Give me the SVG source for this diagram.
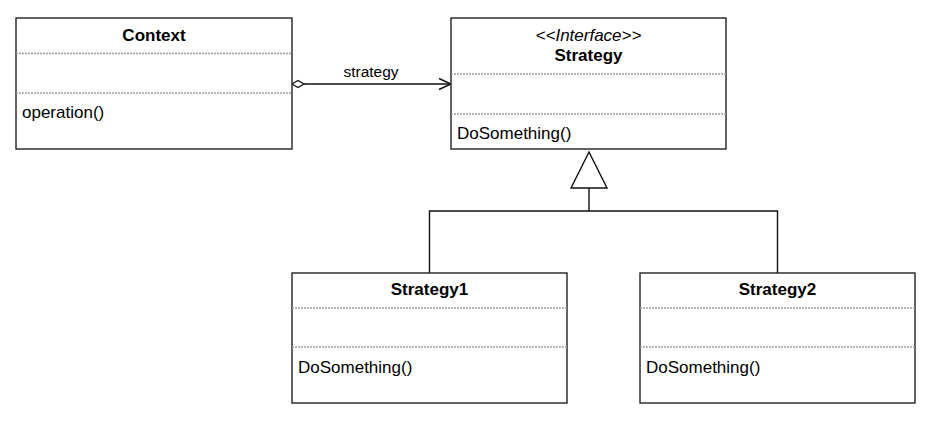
<svg xmlns="http://www.w3.org/2000/svg" width="939" height="434" viewBox="0 0 939 434">
<defs>
<style>
.box{fill:#fff;stroke:#222;stroke-width:1.4}
.div{stroke:#a0a0a0;stroke-width:1.3;stroke-dasharray:2 1}
.t{font-family:"Liberation Sans",Arial,sans-serif;font-size:17px;fill:#000}
.b{font-weight:bold;text-anchor:middle}
.i{font-style:italic;text-anchor:middle}
.lbl{font-family:"Liberation Sans",Arial,sans-serif;font-size:15.5px;fill:#000;text-anchor:middle}
.ln{fill:none;stroke:#111;stroke-width:1.4}
</style>
</defs>
<rect width="939" height="434" fill="#fff"/>
<g id="connectors">
<line class="ln" x1="304" y1="84" x2="450" y2="84"/>
<polygon points="292,84 298,80.5 304,84 298,87.5" fill="#fff" stroke="#111" stroke-width="1.3"/>
<polyline class="ln" points="439,78.5 451,84 439,89.5"/>
<text class="lbl" x="371" y="77">strategy</text>
<polygon points="589,152 607,188 571,188" fill="#fff" stroke="#111" stroke-width="1.4"/>
<line class="ln" x1="589" y1="188" x2="589" y2="211"/>
<polyline class="ln" points="429.5,273 429.5,211 777.5,211 777.5,273"/>
</g>
<g id="context">
<rect class="box" x="16" y="18" width="276" height="131"/>
<line class="div" x1="16" y1="53.5" x2="292" y2="53.5"/>
<line class="div" x1="16" y1="93" x2="292" y2="93"/>
<text class="t b" x="154" y="41">Context</text>
<text class="t" x="22" y="118">operation()</text>
</g>
<g id="strategy">
<rect class="box" x="451" y="18" width="275" height="131"/>
<line class="div" x1="451" y1="74" x2="726" y2="74"/>
<line class="div" x1="451" y1="114" x2="726" y2="114"/>
<text class="t i" x="588.5" y="41">&lt;&lt;Interface&gt;&gt;</text>
<text class="t b" x="588.5" y="61">Strategy</text>
<text class="t" x="457" y="139">DoSomething()</text>
</g>
<g id="strategy1">
<rect class="box" x="292" y="273" width="275" height="130"/>
<line class="div" x1="292" y1="308" x2="567" y2="308"/>
<line class="div" x1="292" y1="347" x2="567" y2="347"/>
<text class="t b" x="429.5" y="295">Strategy1</text>
<text class="t" x="298" y="373">DoSomething()</text>
</g>
<g id="strategy2">
<rect class="box" x="640" y="273" width="275" height="130"/>
<line class="div" x1="640" y1="308" x2="915" y2="308"/>
<line class="div" x1="640" y1="347" x2="915" y2="347"/>
<text class="t b" x="777.5" y="295">Strategy2</text>
<text class="t" x="646" y="373">DoSomething()</text>
</g>
</svg>
